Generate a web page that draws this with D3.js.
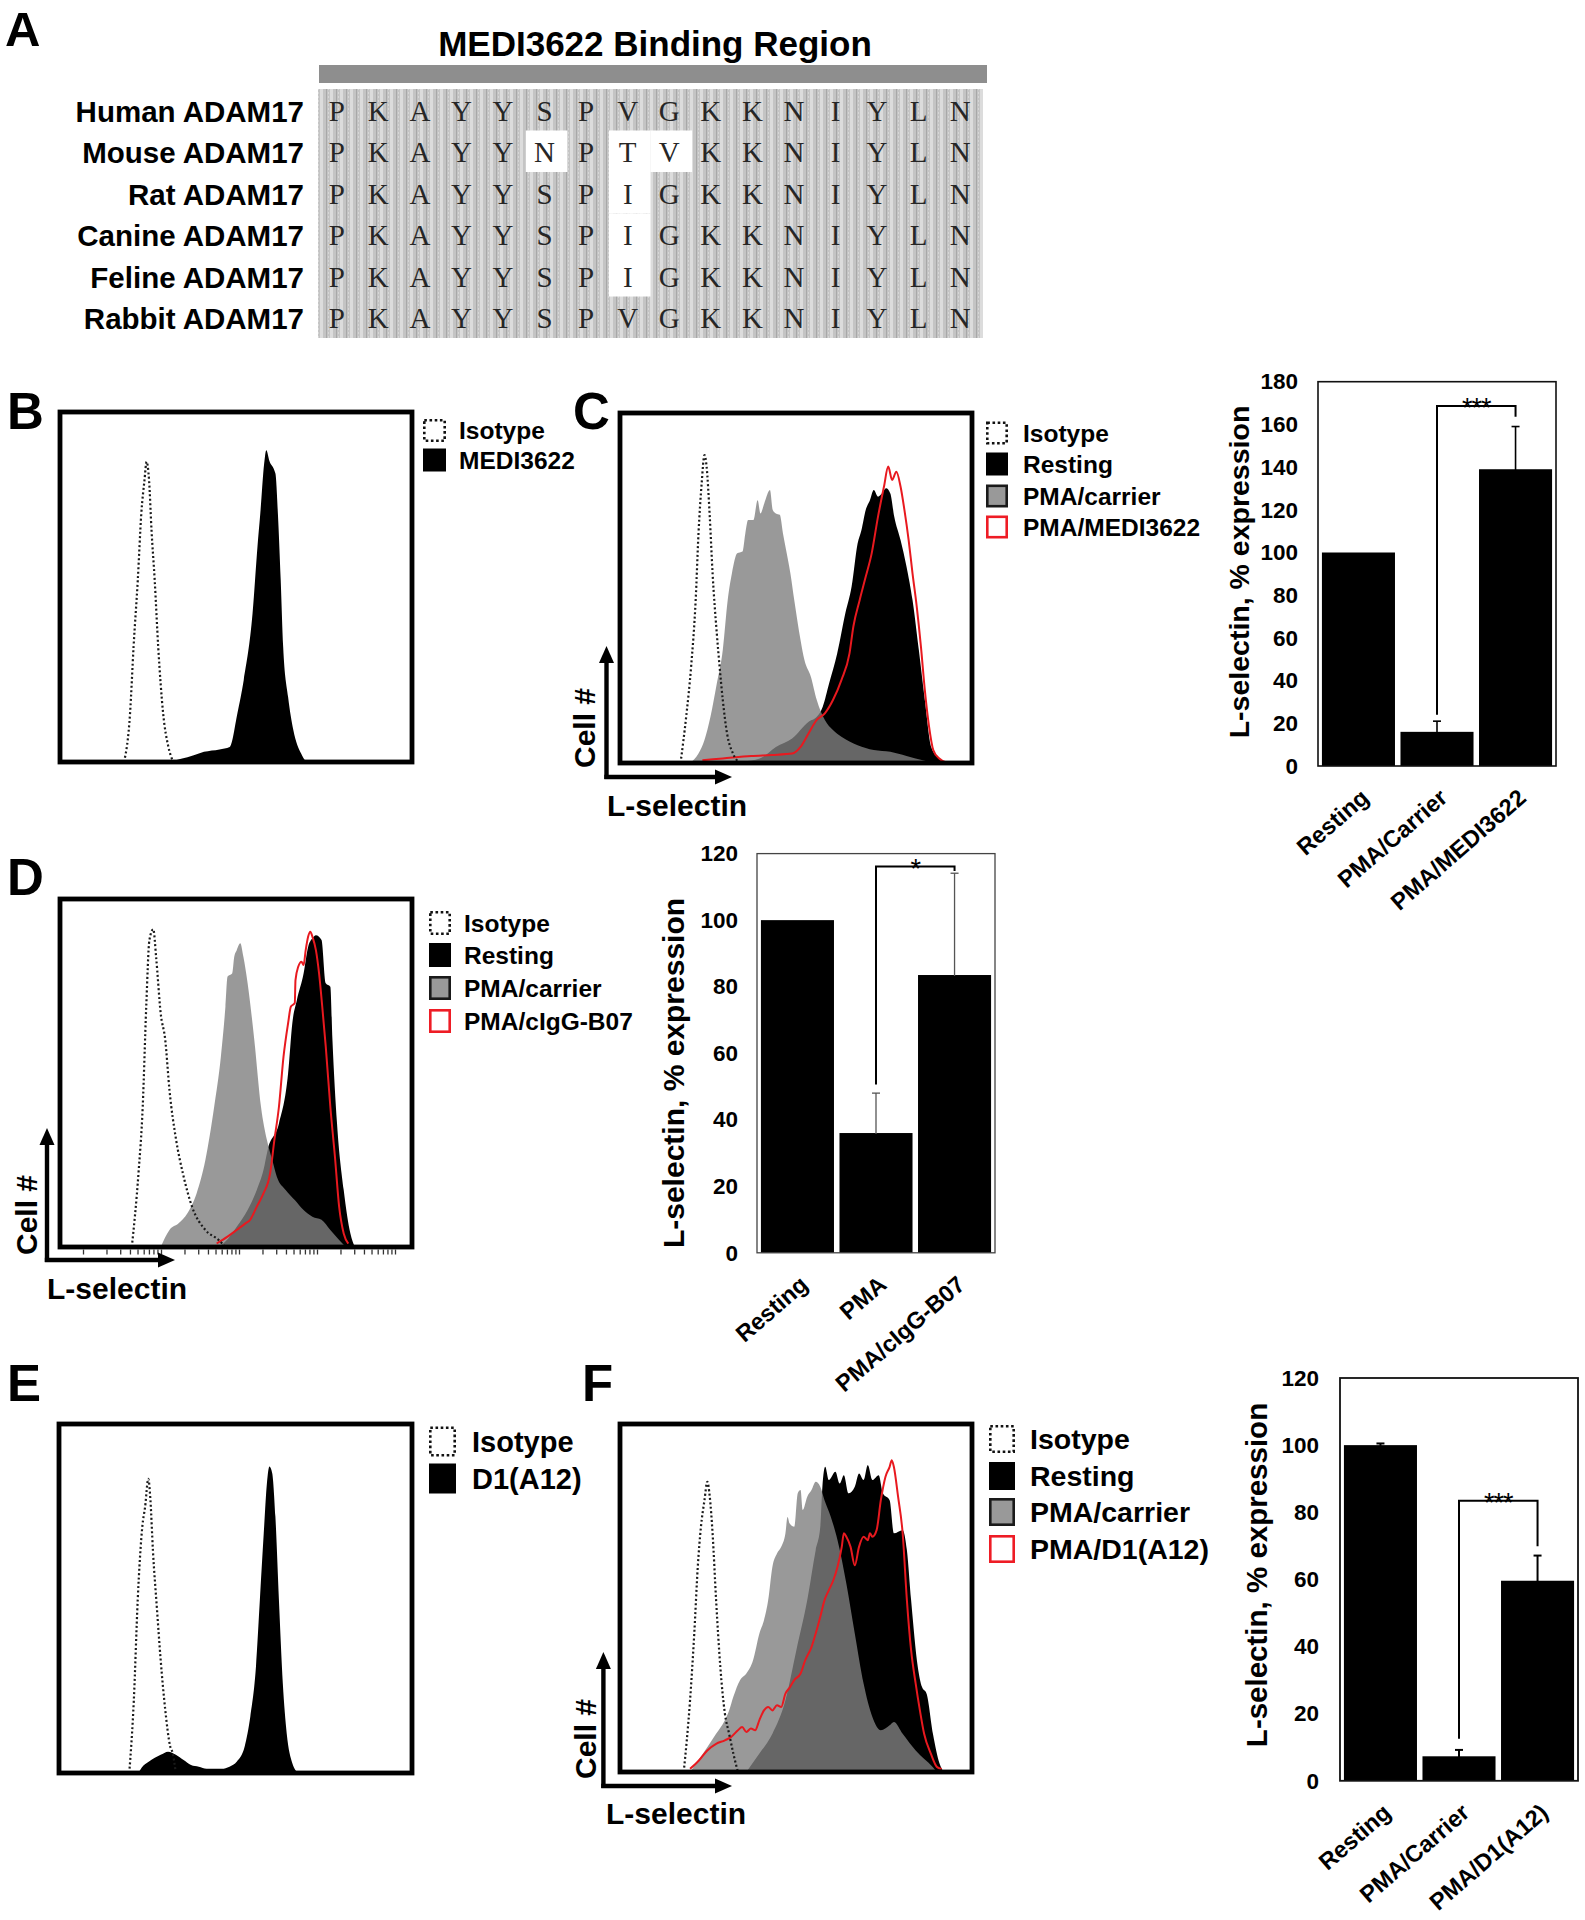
<!DOCTYPE html>
<html>
<head>
<meta charset="utf-8">
<script src="https://cdn.jsdelivr.net/npm/d3@7/dist/d3.min.js"></script>
<style>
  html, body { margin:0; padding:0; background:#fff; }
  svg { display:block; }
</style>
</head>
<body>
<svg id="fig" width="1585" height="1920" xmlns="http://www.w3.org/2000/svg"></svg>
<script>
// ================= DATA =================
// Panel A – sequence alignment
const alignmentTitle = "MEDI3622 Binding Region";
const speciesNames = ["Human ADAM17","Mouse ADAM17","Rat ADAM17","Canine ADAM17","Feline ADAM17","Rabbit ADAM17"];
const speciesSequences = [
  "PKAYYSPVGKKNIYLN",
  "PKAYYNPTVKKNIYLN",
  "PKAYYSPIGKKNIYLN",
  "PKAYYSPIGKKNIYLN",
  "PKAYYSPIGKKNIYLN",
  "PKAYYSPVGKKNIYLN"
];

// Histograms: [relative L-selectin fluorescence (0-100), relative cell count (0-100)]
const histB_isotype  = [[18.2,0],[19.9,13.9],[20.9,32.9],[22.1,52],[23.1,71],[24,80.5],[24.6,85.8],[25.3,80.5],[26,66.2],[26.9,52],[27.9,32.9],[29.3,13.9],[30.8,4.3],[32.2,0]];
const histB_MEDI3622 = [[30.8,0],[38,1.9],[40.9,2.9],[45.3,3.6],[48.2,4.3],[50.4,13.9],[52.2,23.4],[54.7,42.4],[56.1,61.5],[56.9,71],[58,85.3],[58.6,89.1],[59.5,86],[61.2,82.4],[61.9,71],[62.7,52],[63.4,32.9],[64.8,18.6],[66.3,9.1],[68.5,2.4],[69.9,0]];

const histC_isotype  = [[17.2,0],[18.8,13.2],[20.2,27.5],[21.5,46.6],[22.3,65.6],[23.2,79.9],[24,88],[24.6,84.7],[25.5,70.4],[26.3,54.2],[27.5,37],[28.3,27.5],[29.2,18],[30.4,8.5],[32.1,2.7],[34,0]];
const histC_resting  = [[23,0],[35,0.5],[39.7,1.3],[44.3,4.6],[48.9,7],[53.6,11.8],[55.9,13.2],[57.6,16.1],[59.4,22.7],[61.7,31.3],[64,42.7],[65.8,50.4],[67.5,62.7],[68.6,66.6],[69.8,72.3],[71,75.1],[72.1,78],[73.3,76.1],[74.4,77],[75.6,78.5],[76.8,77],[77.9,70.4],[79.7,63.7],[81.4,56.1],[83.1,46.6],[84.9,32.3],[86.6,18],[88.4,4.6],[90.7,1.3],[93,0]];
const histC_carrier  = [[19.9,0],[22.3,2.7],[24,6.6],[25.7,13.2],[27.5,22.7],[29.2,32.3],[30.6,46.6],[31.8,54.2],[33.3,59.9],[34.8,60.4],[35.6,65.6],[36.4,69.4],[37.9,69.4],[39.1,75.1],[39.9,71.3],[41,74.2],[42.6,78],[43.4,72.3],[44.3,71.3],[45.4,70.9],[46.3,65.6],[47.2,60.8],[48.4,54.2],[49.5,46.6],[51.3,35.1],[52.4,29.4],[54.2,24.7],[55.9,18],[58.2,12.3],[60.5,9.4],[62.9,7.5],[67.5,5.1],[72.1,3.7],[76.8,3.2],[81.4,2],[86,0.8],[89.5,0]];
const histC_MEDI3622 = [[23.4,0.8],[29.2,1.3],[37.3,2],[43.1,2.3],[48.9,2.7],[51.3,4.6],[53.6,8.5],[55.9,12.3],[58.2,14.2],[60.5,18],[62.9,23.7],[65.2,31.3],[66.3,39],[68.1,46.6],[69.8,53.2],[71.5,59.9],[73.3,70.4],[75,79],[76.2,84.7],[77.3,80.9],[78.5,83.2],[79.7,79],[80.8,72.3],[82,63.7],[83.1,54.2],[84.3,44.7],[85.5,33.2],[86.6,20.8],[87.8,10.4],[89,3.7],[90.7,1.3],[93,0]];

const histD_isotype  = [[20.4,0],[22.3,21.2],[23.5,40.3],[24.5,69.1],[25.4,88.2],[26.5,91.3],[27.3,83.4],[28.6,67.2],[29.9,59.5],[31.1,45.1],[33,30.7],[34.9,21.2],[37.5,11.6],[41.3,4.9],[45.1,2],[47,0]];
const histD_resting  = [[43.8,0],[46.4,1],[50.2,5.8],[53.3,10.6],[55.9,16.4],[57.8,22.1],[59,27.9],[62.2,35.5],[64.8,49.9],[66,64.3],[67.3,71],[69.2,78.6],[70.5,86.3],[71.7,88.7],[72.7,89.6],[74.3,88.2],[75.5,75.8],[76.8,74.8],[77.4,59.5],[78.7,35.5],[80.6,16.4],[82.5,3.9],[83.8,0]];
const histD_carrier  = [[28.6,0],[31.1,4.9],[33.7,6.8],[36.2,9.7],[38.8,15.4],[41.3,25],[43.8,40.3],[45.7,54.7],[47,69.1],[47.6,77.7],[48.9,78.6],[49.5,83.4],[50.2,85.3],[51.2,87.3],[52.1,83.4],[53.3,75.8],[55.2,59.5],[57.1,40.3],[58.8,30.7],[60.3,25],[61.6,20.2],[64.1,16.4],[66.7,13.5],[69.2,10.6],[71.7,8.7],[74.3,7.8],[76.8,4.9],[79.3,2],[81.2,0]];
const histD_cIgGB07  = [[44.5,1],[47.6,3],[50.2,4.9],[52.7,6.8],[54,7.8],[55.9,11.6],[57.8,15.4],[59.7,21.2],[60.9,30.7],[62.2,40.3],[63.5,54.7],[64.8,64.3],[65.6,69.1],[66.7,70.1],[66.9,76.7],[67.7,80.6],[68.6,82],[69.2,81],[69.8,85.3],[70.5,89.2],[71.1,90.6],[71.7,89.2],[72.7,85.3],[73.6,78.6],[74.5,69.1],[75.5,57.6],[76.8,40.3],[78.1,26],[79.3,11.6],[80.6,3.9],[81.9,1]];

const histE_isotype  = [[19.9,0],[21.2,20.9],[22.3,49.6],[23.6,70.6],[24.4,76.3],[25.3,84.3],[25.9,78.2],[26.6,63.9],[27.7,47.7],[28.8,32.4],[30.1,18.1],[31.5,7.6],[32.2,5.7],[33.1,0]];
const histE_D1A12    = [[22.5,0],[23.4,1.5],[25.5,3.3],[28.8,5.2],[30.9,6.1],[33.1,5.2],[35.3,3.7],[37.4,2.3],[39.6,1.8],[41.8,1.2],[46.1,1.2],[48.3,1.8],[50.4,3.3],[52.6,7.6],[54.2,16.2],[55.8,30.5],[56.9,49.6],[58,68.7],[58.9,83],[59.6,87.8],[60.4,85.9],[61.3,73.5],[62.3,49.6],[63.4,25.7],[64.5,11.4],[66.1,2.8],[67.8,0]];

const histF_isotype  = [[18.1,0],[19.9,20.6],[21.1,39.8],[22.1,59],[23,70.5],[24,78.1],[24.8,83.4],[25.5,79.1],[26.3,68.6],[27.3,49.4],[28.5,30.2],[29.8,16.8],[31,11],[32.2,5.3],[33.5,0]];
const histF_resting  = [[35.9,0],[39.6,5.3],[43.3,11],[47,20.6],[50.1,35],[53.2,49.4],[55.6,63.8],[56.9,70.5],[57.5,82],[58.3,87.7],[59.3,83.9],[61.2,86.3],[62.4,82.9],[63.6,85.3],[64.9,80.1],[66.7,82],[67.9,85.8],[69.2,83.9],[70.4,88.2],[71.7,83.9],[73.5,85.3],[74.7,80.1],[76.6,78.1],[77.8,68.6],[80.3,69.5],[81.5,63.8],[82.7,49.4],[84.6,30.2],[85.8,24.4],[87.1,22.5],[88.9,11],[90.8,2.4],[92,0]];
const histF_carrier  = [[19.9,0],[23.6,5.3],[27.3,11],[29.8,14.9],[31,17.7],[32.2,21.6],[34.1,26.4],[35.9,28.3],[37.8,32.1],[39.6,39.8],[40.9,43.6],[42.1,49.4],[43.3,59],[44.6,62.8],[45.8,64.7],[47,68.6],[47.6,73.3],[48.2,71.4],[49.5,70.5],[50.5,80.1],[51.3,81],[51.9,75.3],[53.2,79.1],[54.4,81],[55.6,83.4],[56.9,82],[58.1,78.1],[59.9,73.3],[61.8,66.6],[64.3,54.2],[66.7,39.8],[69.2,25.4],[71.7,15.8],[74.1,12],[76.6,13.4],[77.8,14.4],[80.3,11],[84,6.2],[88.9,1.4],[90.1,0]];
const histF_D1A12    = [[19.9,0.9],[22.4,3.3],[24.8,6.2],[27.3,8.1],[29.8,9.1],[31.6,10.1],[33.5,12],[34.7,12.9],[35.9,11.5],[37.2,12.5],[38.4,12],[39.6,14.9],[40.9,17.7],[42.1,18.7],[43.3,17.7],[44.6,19.2],[45.8,18.7],[47,22.5],[48.3,24.4],[49.5,26.4],[51.3,28.3],[52.6,32.1],[54.4,35.9],[55.6,39.8],[56.9,44.6],[58.1,49.4],[59.3,52.2],[60.6,55.1],[61.8,59],[63,64.7],[63.6,68.6],[64.3,67.6],[65.5,64.7],[66.7,59.4],[67.9,64.7],[69.2,67.6],[70.4,66.6],[71,68.6],[71.7,67.6],[72.9,69.5],[74.1,78.1],[75.4,84.8],[76.6,87.7],[77.2,89.6],[77.8,87.7],[79,79.1],[80.3,68.6],[81.5,49.4],[82.7,35],[84,25.4],[85.2,17.7],[86.4,11],[88.3,5.3],[90.1,1.4],[91.4,0.9]];

// Legends
const legendB = ["Isotype","MEDI3622"];
const legendC = ["Isotype","Resting","PMA/carrier","PMA/MEDI3622"];
const legendD = ["Isotype","Resting","PMA/carrier","PMA/cIgG-B07"];
const legendE = ["Isotype","D1(A12)"];
const legendF = ["Isotype","Resting","PMA/carrier","PMA/D1(A12)"];

// Bar charts (L-selectin, % expression)
const barC_categories = ["Resting","PMA/Carrier","PMA/MEDI3622"];
const barC_values = [100, 16, 139];
const barC_errors = [0, 5, 20];
const barC_ticks  = [0,20,40,60,80,100,120,140,160,180];
const barC_sig    = [1, 2, 24, 168.6, 163.6]; // from, to, left end, top, right end
const barC_sigLabel = "***";

const barD_categories = ["Resting","PMA","PMA/cIgG-B07"];
const barD_values = [100, 36, 83.5];
const barD_errors = [0, 12, 30.6];
const barD_ticks  = [0,20,40,60,80,100,120];
const barD_sig    = [1, 2, 50.6, 116.1, 114.8];
const barD_sigLabel = "*";

const barF_categories = ["Resting","PMA/Carrier","PMA/D1(A12)"];
const barF_values = [100, 7.3, 59.6];
const barF_errors = [0.5, 1.9, 7.5];
const barF_ticks  = [0,20,40,60,80,100,120];
const barF_sig    = [1, 2, 12.5, 83.4, 69.9];
const barF_sigLabel = "***";

const yTitle = "L-selectin, % expression";

// ================= DRAWING =================
const FONT = "'Liberation Sans', Arial, Helvetica, sans-serif";
const svg = d3.select("#fig");
svg.append("rect").attr("width",1585).attr("height",1920).attr("fill","#fff");
const defs = svg.append("defs");

function txt(parent, s, x, y, size, o = {}) {
  return parent.append("text")
    .attr("x", x).attr("y", y)
    .attr("font-family", o.family || FONT)
    .attr("font-size", size)
    .attr("font-weight", o.weight || "bold")
    .attr("text-anchor", o.anchor || "start")
    .attr("fill", o.fill || "#000")
    .attr("letter-spacing", o.spacing || null)
    .attr("transform", o.transform || null)
    .text(s);
}

// Panel letters
[["A",5,46,49],["B",7,429,51],["C",573,429,51],["D",7,895,51],["E",7,1401,51],["F",582,1401,51]]
  .forEach(([t,x,y,s]) => txt(svg, t, x, y, s));

// ---------- Panel A ----------
(function panelA(){
  const g = svg.append("g");
  const pat = defs.append("pattern").attr("id","stripe").attr("patternUnits","userSpaceOnUse")
    .attr("width",10).attr("height",4);
  pat.append("rect").attr("width",10).attr("height",4).attr("fill","#c4c4c4");
  pat.append("rect").attr("x",0).attr("width",3).attr("height",4).attr("fill","#dcdcdc");
  pat.append("rect").attr("x",6).attr("width",1).attr("height",4).attr("fill","#a8a8a8");
  pat.append("rect").attr("x",8).attr("width",1).attr("height",2).attr("fill","#d6d6d6");

  const nCol = speciesSequences[0].length;
  const col = d3.scaleBand().domain(d3.range(nCol)).range([318, 983]);
  const row = d3.scaleBand().domain(speciesNames).range([89, 338]);

  txt(g, alignmentTitle, 655, 56, 35, {anchor:"middle"});
  g.append("rect").attr("x",319).attr("y",65).attr("width",668).attr("height",18).attr("fill","#8e8e8e");

  g.append("rect").attr("x",col.range()[0]).attr("y",row.range()[0])
    .attr("width",col.range()[1]-col.range()[0]).attr("height",row.range()[1]-row.range()[0])
    .attr("fill","url(#stripe)");

  const ref = speciesSequences[0];
  speciesSequences.forEach((seq, r) => {
    const sp = speciesNames[r];
    seq.split("").forEach((aa, c) => {
      if (aa !== ref[c]) {
        g.append("rect").attr("x", col(c)).attr("y", row(sp))
          .attr("width", col.bandwidth()).attr("height", row.bandwidth()).attr("fill","#fff");
      }
    });
  });
  speciesSequences.forEach((seq, r) => {
    const sp = speciesNames[r];
    const cy = row(sp) + row.bandwidth()/2;
    txt(g, sp, 304, cy + 12, 29.5, {anchor:"end"});
    seq.split("").forEach((aa, c) => {
      txt(g, aa, col(c) + col.bandwidth()/2 - 2, cy + 11, 29,
          {anchor:"middle", weight:"normal", family:"'Liberation Serif','Times New Roman',serif", fill:"#262626"});
    });
  });
})();

// ---------- histogram panels ----------
const STYLE = {
  black:  {kind:"fill", fill:"#000", opacity:1},
  gray:   {kind:"fill", fill:"#808080", opacity:0.8},
  red:    {kind:"line", stroke:"#e8191f", width:2},
  dotted: {kind:"line", stroke:"#1a1a1a", width:2.2, dash:"2,2.4"}
};

let clipId = 0;
function histogram(frame, layers) {
  const x = d3.scaleLinear().domain([0,100]).range([frame.x, frame.x + frame.w]);
  const y = d3.scaleLinear().domain([0,100]).range([frame.y + frame.h, frame.y]);
  const id = "hclip" + (clipId++);
  defs.append("clipPath").attr("id", id).append("rect")
    .attr("x", frame.x).attr("y", frame.y).attr("width", frame.w).attr("height", frame.h);
  const g = svg.append("g").attr("clip-path", `url(#${id})`);
  layers.forEach(([data, st]) => {
    if (st.kind === "fill") {
      const area = d3.area().x(d => x(d[0])).y0(y(0) + 3).y1(d => y(d[1])).curve(d3.curveMonotoneX);
      g.append("path").datum(data).attr("d", area).attr("fill", st.fill).attr("fill-opacity", st.opacity);
    } else {
      const line = d3.line().x(d => x(d[0])).y(d => y(d[1])).curve(d3.curveMonotoneX);
      g.append("path").datum(data).attr("d", line).attr("fill","none")
        .attr("stroke", st.stroke).attr("stroke-width", st.width)
        .attr("stroke-dasharray", st.dash || null).attr("stroke-linejoin","round");
    }
  });
  svg.append("rect").attr("x", frame.x).attr("y", frame.y).attr("width", frame.w).attr("height", frame.h)
    .attr("fill","none").attr("stroke","#000").attr("stroke-width",4.8);
}

function legend(labels, kinds, L) {
  const g = svg.append("g");
  labels.forEach((lab, i) => {
    const cy = L.centers[i];
    const k = kinds[i];
    const r = g.append("rect");
    if (k === "black") {
      r.attr("x", L.x).attr("y", cy - L.h/2).attr("width", L.w).attr("height", L.h).attr("fill","#000");
    } else {
      const sw = 2.6;
      r.attr("x", L.x + sw/2).attr("y", cy - L.h/2 + sw/2).attr("width", L.w - sw).attr("height", L.h - sw)
        .attr("stroke-width", sw);
      if (k === "dotted") r.attr("fill","#fff").attr("stroke","#111").attr("stroke-dasharray","2.6,2.6");
      if (k === "gray")   r.attr("fill","#999").attr("stroke","#1a1a1a");
      if (k === "red")    r.attr("fill","#fff").attr("stroke","#ee1c25");
    }
    txt(g, lab, L.textX, cy + 0.358 * L.fs, L.fs);
  });
}

function arrowAxes(A) {
  const g = svg.append("g");
  const lw = 4.4, hl = 17, hw = 7.5;
  g.append("line").attr("x1", A.vx).attr("y1", A.vy0).attr("x2", A.vx).attr("y2", A.vy1 + hl - 1)
    .attr("stroke","#000").attr("stroke-width", lw);
  g.append("path").attr("d", `M${A.vx},${A.vy1} L${A.vx-hw},${A.vy1+hl} L${A.vx+hw},${A.vy1+hl} Z`).attr("fill","#000");
  g.append("line").attr("x1", A.hx0).attr("y1", A.hy).attr("x2", A.hx1 - hl + 1).attr("y2", A.hy)
    .attr("stroke","#000").attr("stroke-width", lw);
  g.append("path").attr("d", `M${A.hx1},${A.hy} L${A.hx1-hl},${A.hy-hw} L${A.hx1-hl},${A.hy+hw} Z`).attr("fill","#000");
  txt(g, "Cell #", 0, 0, 30, {anchor:"middle", transform:`translate(${A.cellX},${A.cellY}) rotate(-90)`});
  txt(g, "L-selectin", A.labX, A.labY, 30);
}

// Panel B
histogram({x:60, y:412, w:352, h:350}, [[histB_MEDI3622, STYLE.black], [histB_isotype, STYLE.dotted]]);
legend(legendB, ["dotted","black"], {x:423, w:23, h:23, centers:[430.5, 460], textX:459, fs:24.5});

// Panel C
histogram({x:620, y:413, w:352, h:350},
  [[histC_resting, STYLE.black], [histC_carrier, STYLE.gray], [histC_MEDI3622, STYLE.red], [histC_isotype, STYLE.dotted]]);
legend(legendC, ["dotted","black","gray","red"], {x:986, w:22, h:23, centers:[433,464,496,527], textX:1023, fs:24.5});
arrowAxes({vx:606.5, vy0:779, vy1:646, hx0:604.3, hx1:732, hy:777, cellX:595, cellY:728, labX:607, labY:816});

// Panel D
histogram({x:60, y:899, w:352, h:348},
  [[histD_resting, STYLE.black], [histD_carrier, STYLE.gray], [histD_cIgGB07, STYLE.red], [histD_isotype, STYLE.dotted]]);
(function logTicks(){
  const s = d3.scaleLog().domain([1, 1e4]).range([83, 395]);
  const ax = svg.append("g").attr("transform","translate(0,1249.5)")
    .call(d3.axisBottom(s).tickSize(5).tickFormat(""));
  ax.select(".domain").remove();
  ax.selectAll("line").attr("stroke","#333").attr("stroke-width",1.3);
})();
legend(legendD, ["dotted","black","gray","red"], {x:429, w:22, h:24, centers:[923,955,988,1021], textX:464, fs:24.5});
arrowAxes({vx:47, vy0:1262, vy1:1128, hx0:44.8, hx1:175, hy:1260, cellX:37, cellY:1215, labX:47, labY:1299});

// Panel E
histogram({x:59, y:1424, w:353, h:349}, [[histE_D1A12, STYLE.black], [histE_isotype, STYLE.dotted]]);
legend(legendE, ["dotted","black"], {x:429, w:27, h:30, centers:[1441.5, 1478.5], textX:472, fs:29});

// Panel F
histogram({x:620, y:1424, w:352, h:348},
  [[histF_resting, STYLE.black], [histF_carrier, STYLE.gray], [histF_D1A12, STYLE.red], [histF_isotype, STYLE.dotted]]);
legend(legendF, ["dotted","black","gray","red"], {x:989, w:26, h:28, centers:[1439,1476,1512,1549], textX:1030, fs:28.5});
arrowAxes({vx:603.4, vy0:1788, vy1:1652, hx0:601.2, hx1:732, hy:1786, cellX:596, cellY:1739, labX:606, labY:1824});

// ---------- bar charts ----------
function barChart(frame, cats, vals, errs, ticks, sig, sigLabel, st) {
  const g = svg.append("g");
  const x = d3.scaleBand().domain(cats).range([frame.x, frame.x + frame.w]).paddingInner(0.07).paddingOuter(0.05);
  const y = d3.scaleLinear().domain([0, d3.max(ticks)]).range([frame.y + frame.h, frame.y]);
  const cx = c => x(c) + x.bandwidth()/2;

  g.selectAll("rect.bar").data(cats).join("rect").attr("class","bar")
    .attr("x", d => x(d)).attr("y", (d,i) => y(vals[i]))
    .attr("width", x.bandwidth()).attr("height", (d,i) => y(0) - y(vals[i]))
    .attr("fill","#000");

  g.append("rect").attr("x", frame.x).attr("y", frame.y).attr("width", frame.w).attr("height", frame.h)
    .attr("fill","none").attr("stroke", st.frame).attr("stroke-width", st.frameW);

  const ax = g.append("g").attr("transform", `translate(${frame.x},0)`)
    .call(d3.axisLeft(y).tickValues(ticks).tickSize(0).tickPadding(st.pad));
  ax.select(".domain").remove();
  ax.selectAll("text").attr("font-family", FONT).attr("font-size", 22.5).attr("font-weight","bold").attr("fill","#000");

  cats.forEach((c, i) => {
    if (errs[i] > 0) {
      const top = y(vals[i] + errs[i]);
      g.append("line").attr("x1", cx(c)).attr("x2", cx(c)).attr("y1", y(vals[i]) + 1).attr("y2", top)
        .attr("stroke", st.err).attr("stroke-width", st.errW);
      g.append("line").attr("x1", cx(c) - 4).attr("x2", cx(c) + 4).attr("y1", top).attr("y2", top)
        .attr("stroke", st.err).attr("stroke-width", st.errW);
    }
  });

  const [a, b, lv, tv, rv] = sig;
  const xa = cx(cats[a]), xb = cx(cats[b]);
  g.append("path").attr("d", `M${xa},${y(lv)} V${y(tv)} H${xb} V${y(rv)}`)
    .attr("fill","none").attr("stroke","#000").attr("stroke-width", 2);
  txt(g, sigLabel, (xa + xb)/2, y(tv) + 11, 27, {anchor:"middle", weight:"normal", spacing:-1});

  cats.forEach(c => {
    txt(g, c, 0, 0, 23.5, {anchor:"end", transform:`translate(${cx(c) + 12},${y(0) + 34}) rotate(-41)`});
  });

  txt(g, yTitle, 0, 0, st.titleFs, {anchor:"middle", transform:`translate(${st.titleX},${st.titleY}) rotate(-90)`});
}

barChart({x:1318, y:381.7, w:238, h:384.3}, barC_categories, barC_values, barC_errors, barC_ticks, barC_sig, barC_sigLabel,
  {frame:"#111", frameW:1.6, err:"#000", errW:1.6, pad:20, titleX:1249, titleY:572, titleFs:28.5});
barChart({x:757, y:853.6, w:238, h:399.2}, barD_categories, barD_values, barD_errors, barD_ticks, barD_sig, barD_sigLabel,
  {frame:"#444", frameW:1.3, err:"#555", errW:1.3, pad:19, titleX:684, titleY:1073, titleFs:30});
barChart({x:1340, y:1378, w:238, h:402.8}, barF_categories, barF_values, barF_errors, barF_ticks, barF_sig, barF_sigLabel,
  {frame:"#111", frameW:1.8, err:"#000", errW:2, pad:21, titleX:1267, titleY:1575, titleFs:29.5});
</script>
</body>
</html>
